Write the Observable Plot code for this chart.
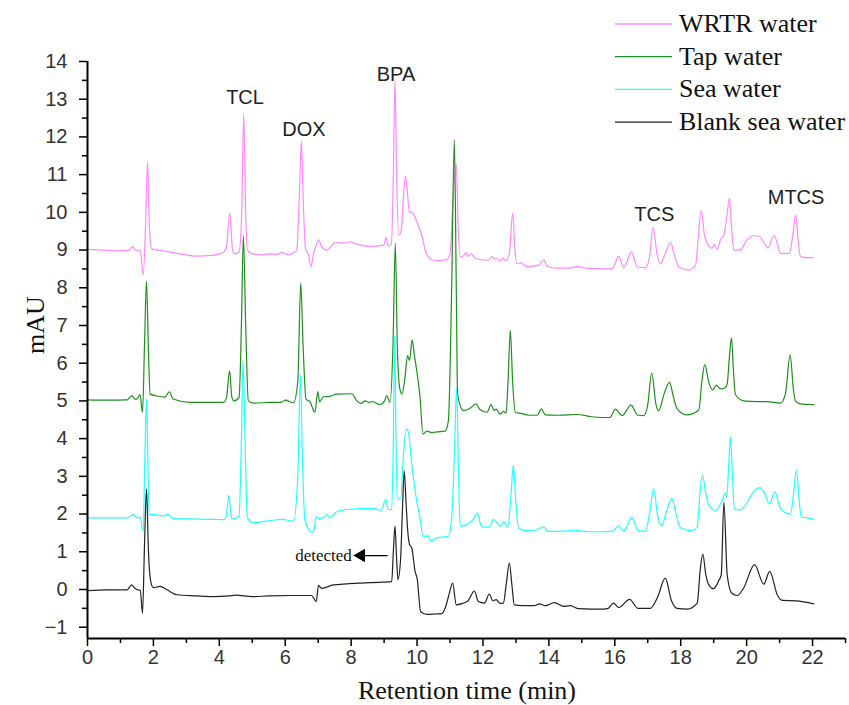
<!DOCTYPE html>
<html><head><meta charset="utf-8">
<script src="https://cdn.jsdelivr.net/npm/d3@7"></script>
<script src="https://cdn.jsdelivr.net/npm/@observablehq/plot@0.6"></script>
<style>body{margin:0;background:#fff}</style>
</head><body><div id="chart"></div>
<script>
const seriesNames = ["WRTR water", "Tap water", "Sea water", "Blank sea water"];
const seriesColors = ["#ff88ff", "#1f8f1f", "#22ffff", "#222222"];

const wrtr = [[0,9.02],[0.5,9.0],[1.0,8.98],[1.25,8.99],[1.37,9.09],[1.45,9.0],[1.6,8.99],[1.69,8.34],[1.76,9.6],[1.82,11.35],[1.88,9.6],[1.95,9.03],[2.3,8.98],[2.8,8.9],[3.31,8.84],[3.8,8.86],[4.1,8.92],[4.22,9.1],[4.32,9.98],[4.4,9.0],[4.45,8.9],[4.6,8.95],[4.68,10.0],[4.74,12.62],[4.8,10.0],[4.85,9.0],[5.0,8.9],[5.3,8.87],[5.5,8.9],[5.7,8.88],[5.9,8.93],[6.1,8.87],[6.25,8.93],[6.35,9.0],[6.43,10.5],[6.49,11.89],[6.55,10.2],[6.62,9.0],[6.7,8.9],[6.78,8.56],[6.86,8.9],[6.93,9.1],[7.01,9.27],[7.1,9.1],[7.26,9.0],[7.4,9.1],[7.51,9.2],[7.75,9.18],[7.97,9.22],[8.2,9.15],[8.58,9.1],[8.9,9.12],[9.0,9.15],[9.06,9.34],[9.12,9.12],[9.22,9.15],[9.28,11.0],[9.33,13.48],[9.38,11.0],[9.44,9.4],[9.52,9.5],[9.58,10.3],[9.65,10.97],[9.71,10.5],[9.77,9.98],[9.82,10.02],[9.87,9.98],[9.92,9.9],[9.99,9.76],[10.1,9.5],[10.15,9.36],[10.28,8.91],[10.5,8.73],[10.7,8.72],[10.9,8.75],[11.0,8.9],[11.1,10.5],[11.19,11.29],[11.25,9.5],[11.31,8.82],[11.42,8.86],[11.48,8.93],[11.55,8.83],[11.64,8.9],[11.75,8.8],[11.9,8.75],[12.16,8.73],[12.27,8.82],[12.35,8.76],[12.42,8.79],[12.5,8.71],[12.6,8.78],[12.68,8.72],[12.8,8.9],[12.9,9.98],[12.97,9.0],[13.03,8.64],[13.15,8.66],[13.33,8.56],[13.7,8.6],[13.84,8.75],[13.95,8.57],[14.24,8.52],[14.6,8.52],[14.85,8.56],[15.1,8.52],[15.66,8.5],[15.92,8.51],[16.12,8.83],[16.27,8.53],[16.5,8.95],[16.68,8.55],[16.93,8.53],[17.05,8.8],[17.16,9.6],[17.28,8.9],[17.38,8.63],[17.55,8.95],[17.69,9.2],[17.8,8.9],[17.94,8.55],[18.24,8.47],[18.45,8.6],[18.53,9.3],[18.62,10.05],[18.72,9.4],[18.8,9.18],[18.95,9.05],[19.02,9.15],[19.1,9.02],[19.22,9.3],[19.3,9.37],[19.4,9.9],[19.48,10.38],[19.55,9.5],[19.61,9.0],[19.8,9.0],[20.01,9.27],[20.22,9.38],[20.4,9.36],[20.52,9.2],[20.65,9.06],[20.84,9.4],[20.95,9.1],[21.03,8.91],[21.3,8.91],[21.4,9.4],[21.49,9.93],[21.57,9.2],[21.63,8.84],[21.8,8.8],[22.04,8.8]];

const tap = [[0,5.03],[0.6,5.02],[1.2,5.03],[1.29,5.1],[1.36,5.14],[1.43,5.05],[1.5,5.05],[1.59,5.17],[1.67,4.7],[1.73,6.5],[1.79,8.18],[1.85,6.3],[1.9,5.18],[2.1,5.13],[2.35,5.1],[2.48,5.24],[2.6,5.05],[3.11,4.96],[3.6,4.96],[4.12,4.96],[4.22,5.1],[4.31,5.8],[4.38,5.1],[4.45,5.0],[4.6,5.1],[4.67,7.0],[4.73,9.37],[4.8,7.0],[4.88,5.0],[5.03,4.94],[5.5,4.96],[5.9,4.97],[6.0,5.02],[6.25,4.95],[6.38,5.5],[6.47,8.13],[6.54,6.5],[6.63,5.05],[6.75,4.98],[6.9,4.7],[6.99,5.25],[7.04,4.98],[7.16,5.11],[7.35,5.12],[7.56,5.18],[8.02,5.19],[8.17,5.0],[8.3,4.93],[8.42,5.0],[8.55,4.96],[8.65,4.98],[8.88,4.9],[9.0,4.98],[9.08,5.14],[9.18,4.96],[9.27,6.5],[9.34,9.18],[9.4,6.5],[9.47,5.36],[9.54,5.18],[9.63,5.6],[9.71,6.2],[9.77,6.07],[9.85,6.62],[9.92,6.2],[9.99,5.8],[10.09,5.1],[10.18,4.12],[10.3,4.2],[10.45,4.16],[10.6,4.18],[10.85,4.2],[10.95,4.47],[11.05,8.0],[11.13,11.93],[11.19,8.0],[11.23,5.18],[11.41,4.74],[11.6,4.8],[11.79,4.92],[11.9,4.78],[12.12,4.7],[12.25,4.9],[12.33,4.75],[12.4,4.78],[12.52,4.65],[12.62,4.72],[12.7,4.68],[12.76,5.5],[12.83,6.87],[12.9,5.5],[12.98,4.7],[13.15,4.67],[13.4,4.62],[13.65,4.62],[13.77,4.79],[13.89,4.63],[14.3,4.62],[14.85,4.64],[15.3,4.58],[15.66,4.56],[15.85,4.56],[16.02,4.78],[16.22,4.61],[16.49,4.89],[16.7,4.62],[16.88,4.61],[17.0,4.9],[17.12,5.74],[17.25,4.9],[17.33,4.74],[17.5,5.2],[17.66,5.49],[17.78,5.1],[17.89,4.79],[18.19,4.63],[18.55,4.76],[18.64,5.5],[18.73,5.96],[18.85,5.5],[18.97,5.29],[19.08,5.42],[19.2,5.32],[19.35,5.35],[19.41,5.45],[19.48,6.2],[19.54,6.67],[19.6,5.8],[19.66,5.17],[19.91,5.0],[20.3,4.98],[20.62,4.98],[21.03,4.94],[21.18,5.2],[21.32,6.22],[21.42,5.3],[21.48,5.0],[21.63,4.92],[22.04,4.9]];

const sea = [[0,1.9],[0.6,1.9],[1.2,1.9],[1.39,1.99],[1.5,1.9],[1.6,1.92],[1.69,1.54],[1.74,3.5],[1.79,5.05],[1.83,3.5],[1.87,1.99],[2.1,1.98],[2.3,1.95],[2.45,2.0],[2.6,1.88],[3.1,1.87],[3.82,1.86],[4.15,1.85],[4.22,2.0],[4.29,2.5],[4.35,2.0],[4.4,1.87],[4.6,1.95],[4.67,4.0],[4.72,6.07],[4.78,4.0],[4.85,1.9],[5.03,1.77],[5.5,1.82],[5.9,1.86],[6.25,1.81],[6.38,3.0],[6.46,5.7],[6.52,3.5],[6.6,1.81],[6.85,1.5],[6.94,1.94],[7.0,1.88],[7.2,1.92],[7.25,1.99],[7.36,1.9],[7.56,2.06],[7.87,2.12],[8.68,2.15],[8.9,2.1],[9.06,2.39],[9.12,2.12],[9.23,2.12],[9.28,4.0],[9.32,6.74],[9.36,4.0],[9.4,2.42],[9.5,2.4],[9.59,3.59],[9.67,4.25],[9.73,4.2],[9.84,3.32],[9.99,2.34],[10.09,1.9],[10.18,1.41],[10.35,1.42],[10.42,1.28],[10.6,1.37],[10.95,1.41],[11.05,1.9],[11.13,3.5],[11.2,5.36],[11.26,3.0],[11.31,1.68],[11.5,1.72],[11.7,1.85],[11.83,2.03],[11.92,1.75],[12.02,1.65],[12.2,1.66],[12.32,1.86],[12.45,1.75],[12.55,1.68],[12.63,1.8],[12.75,1.65],[12.85,2.5],[12.92,3.3],[12.99,2.4],[13.08,1.63],[13.3,1.56],[13.6,1.57],[13.84,1.66],[13.99,1.54],[14.5,1.55],[14.85,1.56],[15.2,1.53],[15.66,1.53],[15.92,1.54],[16.12,1.68],[16.27,1.55],[16.52,1.92],[16.7,1.56],[16.93,1.54],[17.05,2.0],[17.18,2.67],[17.3,1.95],[17.41,1.68],[17.58,2.1],[17.73,2.42],[17.86,2.0],[18.0,1.63],[18.35,1.56],[18.5,1.65],[18.58,2.5],[18.66,3.04],[18.75,2.6],[18.85,2.25],[19.05,2.09],[19.25,2.35],[19.35,2.56],[19.4,2.45],[19.45,3.2],[19.51,4.05],[19.57,3.0],[19.63,2.12],[19.8,2.11],[20.01,2.3],[20.22,2.61],[20.4,2.7],[20.55,2.55],[20.69,2.27],[20.86,2.59],[21.0,2.2],[21.15,2.05],[21.33,2.0],[21.42,2.5],[21.51,3.17],[21.6,2.3],[21.66,1.92],[21.85,1.9],[22.04,1.86]];

const blank = [[0,-0.03],[0.6,-0.01],[1.2,-0.01],[1.34,0.12],[1.42,0.05],[1.49,0.0],[1.6,-0.02],[1.67,-0.63],[1.73,1.2],[1.79,2.67],[1.85,1.0],[1.92,0.21],[2.0,0.05],[2.2,0.08],[2.4,0.0],[2.71,-0.14],[3.3,-0.17],[3.82,-0.19],[4.3,-0.17],[4.5,-0.15],[5.0,-0.19],[5.5,-0.17],[6.2,-0.16],[6.8,-0.16],[6.94,-0.32],[7.01,0.11],[7.1,0.03],[7.46,0.12],[7.87,0.15],[8.3,0.17],[8.88,0.19],[9.1,0.2],[9.23,0.21],[9.28,1.0],[9.33,1.68],[9.38,0.8],[9.42,0.26],[9.5,0.8],[9.56,2.2],[9.61,3.14],[9.66,2.4],[9.71,1.63],[9.77,1.2],[9.84,1.1],[9.94,0.48],[10.0,0.3],[10.11,-0.59],[10.3,-0.66],[10.55,-0.65],[10.75,-0.64],[10.85,-0.5],[10.95,-0.2],[11.08,0.17],[11.19,-0.41],[11.38,-0.37],[11.55,-0.3],[11.74,-0.04],[11.86,-0.32],[12.05,-0.36],[12.19,-0.12],[12.3,-0.3],[12.4,-0.27],[12.52,-0.37],[12.62,-0.36],[12.7,0.1],[12.8,0.7],[12.88,0.1],[12.95,-0.41],[13.2,-0.43],[13.55,-0.43],[13.72,-0.38],[13.88,-0.43],[14.17,-0.35],[14.45,-0.45],[14.65,-0.43],[14.9,-0.51],[15.3,-0.52],[15.66,-0.52],[15.8,-0.5],[15.96,-0.36],[16.12,-0.48],[16.45,-0.26],[16.7,-0.5],[17.08,-0.5],[17.3,-0.2],[17.53,0.3],[17.72,-0.3],[17.88,-0.5],[18.2,-0.52],[18.5,-0.36],[18.59,0.5],[18.67,0.94],[18.76,0.4],[18.85,0.13],[19.0,0.02],[19.08,0.1],[19.15,0.23],[19.23,0.39],[19.31,2.32],[19.41,0.39],[19.55,-0.1],[19.71,-0.16],[19.91,0.04],[20.24,0.66],[20.52,0.14],[20.7,0.48],[20.93,-0.14],[21.08,-0.29],[21.5,-0.3],[22.04,-0.38]];

const xMajorTicks = [0, 2, 4, 6, 8, 10, 12, 14, 16, 18, 20, 22];
const xMinorTicks = [1, 3, 5, 7, 9, 11, 13, 15, 17, 19, 21, 23];
const yMajorTicks = [-1, 0, 1, 2, 3, 4, 5, 6, 7, 8, 9, 10, 11, 12, 13, 14];
const yMinorTicks = [-0.5, 0.5, 1.5, 2.5, 3.5, 4.5, 5.5, 6.5, 7.5, 8.5, 9.5, 10.5, 11.5, 12.5, 13.5];

const peakLabels = ["TCL", "DOX", "BPA", "TCS", "MTCS"];
const peakLabelX = [4.78, 6.57, 9.36, 17.2, 21.5];
const peakLabelY = [13.04, 12.2, 13.65, 9.94, 10.38];

const noteText = "detected";
const noteX = 7.16, noteY = 0.9;
const arrowFrom = 9.12, arrowTo = 8.15;

const rows = [];
[wrtr, tap, sea, blank].forEach((arr, i) => arr.forEach(([t, v]) => rows.push({series: seriesNames[i], t, v})));
const peaks = peakLabels.map((label, i) => ({label, x: peakLabelX[i], y: peakLabelY[i]}));

const yMin = -1.3;
const plot = Plot.plot({
  width: 849, height: 705,
  marginLeft: 87, marginRight: 4, marginTop: 61, marginBottom: 67,
  style: {fontFamily: "'Liberation Sans', Arial, sans-serif", fontSize: "20px", color: "#222", background: "#fff"},
  x: {domain: [0, 23], label: null},
  y: {domain: [yMin, 14], label: null},
  color: {domain: seriesNames, range: seriesColors},
  marks: [
    Plot.line(rows, {x: "t", y: "v", z: "series", stroke: "series", curve: "monotone-x", strokeWidth: 1.2}),
    Plot.axisX(xMajorTicks, {tickSize: 8, tickPadding: 3, stroke: "#000", strokeWidth: 1.5, fill: "#333"}),
    Plot.axisX(xMinorTicks, {tickSize: 5, tickFormat: () => "", stroke: "#000", strokeWidth: 1.5}),
    Plot.axisY(yMajorTicks, {tickSize: 8, tickPadding: 12, stroke: "#000", strokeWidth: 1.5, fill: "#333", tickFormat: d => d < 0 ? "\u2212" + Math.abs(d) : String(d)}),
    Plot.axisY(yMinorTicks, {tickSize: 5, tickFormat: () => "", stroke: "#000", strokeWidth: 1.5}),
    Plot.ruleX([0], {y1: yMin, y2: 14, stroke: "#000", strokeWidth: 2}),
    Plot.ruleY([yMin], {x1: 0, x2: 23, stroke: "#000", strokeWidth: 2}),
    Plot.text(peaks, {x: "x", y: "y", text: "label", fontSize: 20, fill: "#222"}),
    Plot.text([noteText], {x: noteX, y: noteY, text: d => d, fontSize: 17, fontFamily: "'Liberation Serif', 'Times New Roman', serif", fill: "#111"}),
    Plot.ruleY([noteY], {x1: arrowFrom, x2: arrowTo, stroke: "#000", strokeWidth: 1.2}),
    Plot.dot([noteY], {x: arrowTo, y: d => d, symbol: "triangle", rotate: -90, r: 5, fill: "#000", stroke: null, dx: 5})
  ]
});

const svg = d3.select(plot);
const serif = "'Liberation Serif', 'Times New Roman', serif";
// axis titles
svg.append("text").attr("transform", "translate(38,325) rotate(-90)")
  .attr("text-anchor", "middle").attr("dominant-baseline", "middle")
  .attr("font-family", serif).attr("font-size", 26).attr("fill", "#111").text("mAU");
svg.append("text").attr("x", 467).attr("y", 699)
  .attr("text-anchor", "middle").attr("font-family", serif).attr("font-size", 26).attr("fill", "#111")
  .text("Retention time (min)");
// legend
const lg = svg.append("g").attr("text-anchor", "start");
seriesNames.forEach((name, i) => {
  const yy = 24 + i * 32.7;
  lg.append("line").attr("x1", 615).attr("x2", 672).attr("y1", yy).attr("y2", yy)
    .attr("stroke", seriesColors[i]).attr("stroke-width", 1.3);
  lg.append("text").attr("x", 679).attr("y", yy + 8).attr("text-anchor", "start").attr("font-family", serif)
    .attr("font-size", 26).attr("fill", "#111").text(name);
});
document.getElementById("chart").appendChild(plot);
</script>
</body></html>
